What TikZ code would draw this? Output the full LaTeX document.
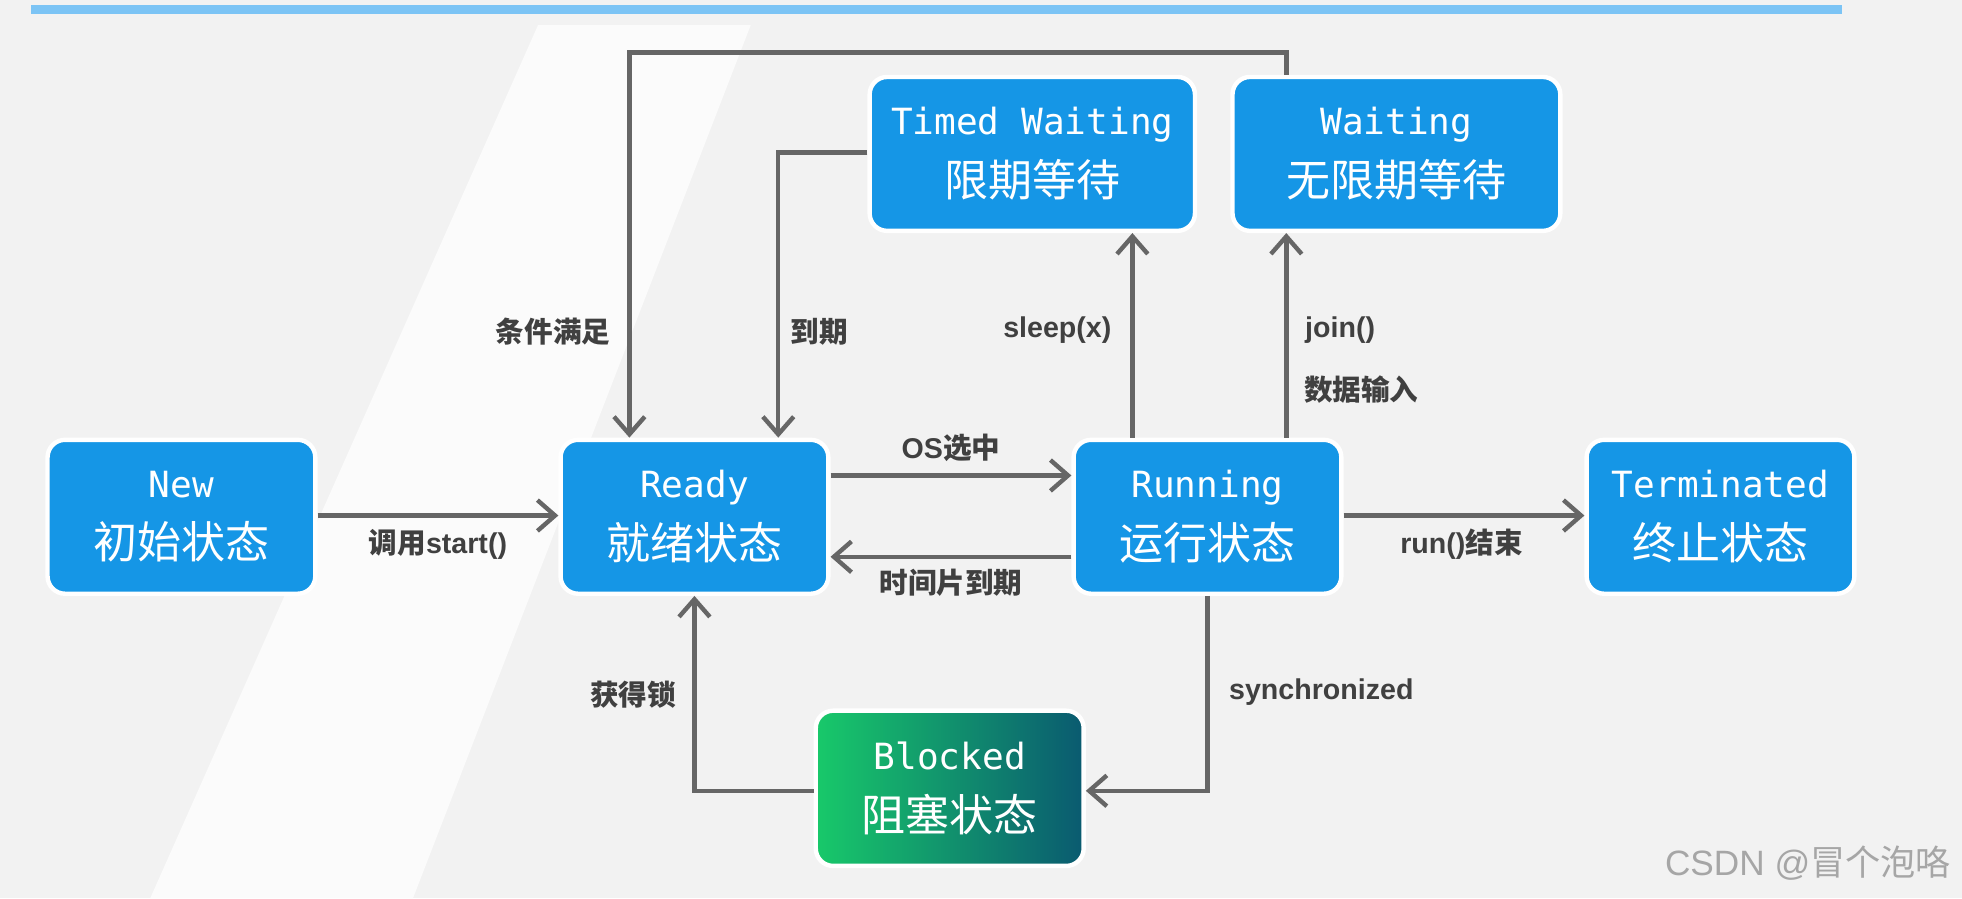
\documentclass[tikz,border=0pt]{standalone}
\usepackage{fontspec}
\setmainfont{Liberation Sans}
\newfontfamily\cjk{Noto Sans CJK SC}
\newfontfamily\mono{DejaVu Sans Mono}[Scale=0.82]
\usetikzlibrary{arrows.meta}
\definecolor{boxblue}{HTML}{1596E6}
\definecolor{arr}{HTML}{666666}
\definecolor{bg}{HTML}{F2F2F2}
\definecolor{topline}{HTML}{7CC4F5}
\definecolor{gA}{HTML}{18C96A}
\definecolor{gB}{HTML}{0A5A70}
\begin{document}
\begin{tikzpicture}[x=0.01cm,y=-0.01cm,
  st/.style={draw=white,line width=1pt,rounded corners=0.14cm,fill=boxblue,text=white,align=center,font=\fontsize{10}{14}\selectfont,inner sep=0pt},
  ar/.style={draw=arr,line width=1pt,-{Straight Barb[length=4pt,width=7pt]}},
  lb/.style={text=black!75,font=\bfseries\fontsize{6.5}{8}\selectfont}]
\useasboundingbox (0,0) rectangle (1568,718);
\fill[bg] (0,0) rectangle (1568,718);
\fill[white!70!bg] (120,718) -- (430,20) -- (600,20) -- (330,718) -- cycle;
\fill[topline] (25,4) rectangle (1472,11);
\newcommand{\bx}[5]{\node[st,minimum width=#3*0.01cm,minimum height=#4*0.01cm] (#1) at (#2) {#5};}
\bx{new}{145,413}{214}{123}{{\mono New}\\{\cjk 初始状态}}
\bx{ready}{555,413}{214}{123}{{\mono Ready}\\{\cjk 就绪状态}}
\bx{run}{965,413}{214}{123}{{\mono Running}\\{\cjk 运行状态}}
\bx{term}{1375,413}{214}{123}{{\mono Terminated}\\{\cjk 终止状态}}
\bx{tw}{825,123}{260}{123}{{\mono Timed Waiting}\\{\cjk 限期等待}}
\bx{w}{1116,123}{262}{123}{{\mono Waiting}\\{\cjk 无限期等待}}
\node[st,left color=gA,right color=gB,minimum width=2.14cm,minimum height=1.24cm] (blk) at (759,630) {{\mono Blocked}\\{\cjk 阻塞状态}};
\draw[ar] (new.east |- 0,412) -- (ready.west |- 0,412);
\draw[ar] (ready.east |- 0,380) -- (run.west |- 0,380);
\draw[ar] (run.west |- 0,445) -- (ready.east |- 0,445);
\draw[ar] (run.east |- 0,412) -- (term.west |- 0,412);
\draw[ar] (run.north -| 905,0) -- (tw.south -| 905,0);
\draw[ar] (run.north -| 1028,0) -- (w.south -| 1028,0);
\coordinate (c1) at (1028,42); \coordinate (c2) at (503,42);
\draw[ar] (w.north -| 1028,0) -- (c1) -- (c2) -- (ready.north -| 503,0);
\coordinate (c3) at (622,122);
\draw[ar] (tw.west |- 0,122) -- (c3) -- (ready.north -| 622,0);
\coordinate (c4) at (965,632);
\draw[ar] (run.south -| 965,0) -- (c4) -- (blk.east |- 0,632);
\coordinate (c5) at (555,632);
\draw[ar] (blk.west |- 0,632) -- (c5) -- (ready.south);
\node[lb] at (350,435) {{\cjk 调用}start()};
\node[lb] at (760,358) {OS{\cjk 选中}};
\node[lb] at (760,466) {\cjk 时间片到期};
\node[lb] at (1168,435) {run(){\cjk 结束}};
\node[lb] at (845,264) {sleep(x)};
\node[lb] at (1071,264) {join()};
\node[lb] at (1088,311) {\cjk 数据输入};
\node[lb] at (442,265) {\cjk 条件满足};
\node[lb] at (655,265) {\cjk 到期};
\node[lb] at (1056,553) {synchronized};
\node[lb] at (506,555) {\cjk 获得锁};
\node[text=black!35,font=\fontsize{8}{10}\selectfont] at (1445,690) {CSDN @{\cjk 冒个泡咯}};
\end{tikzpicture}
\end{document}
